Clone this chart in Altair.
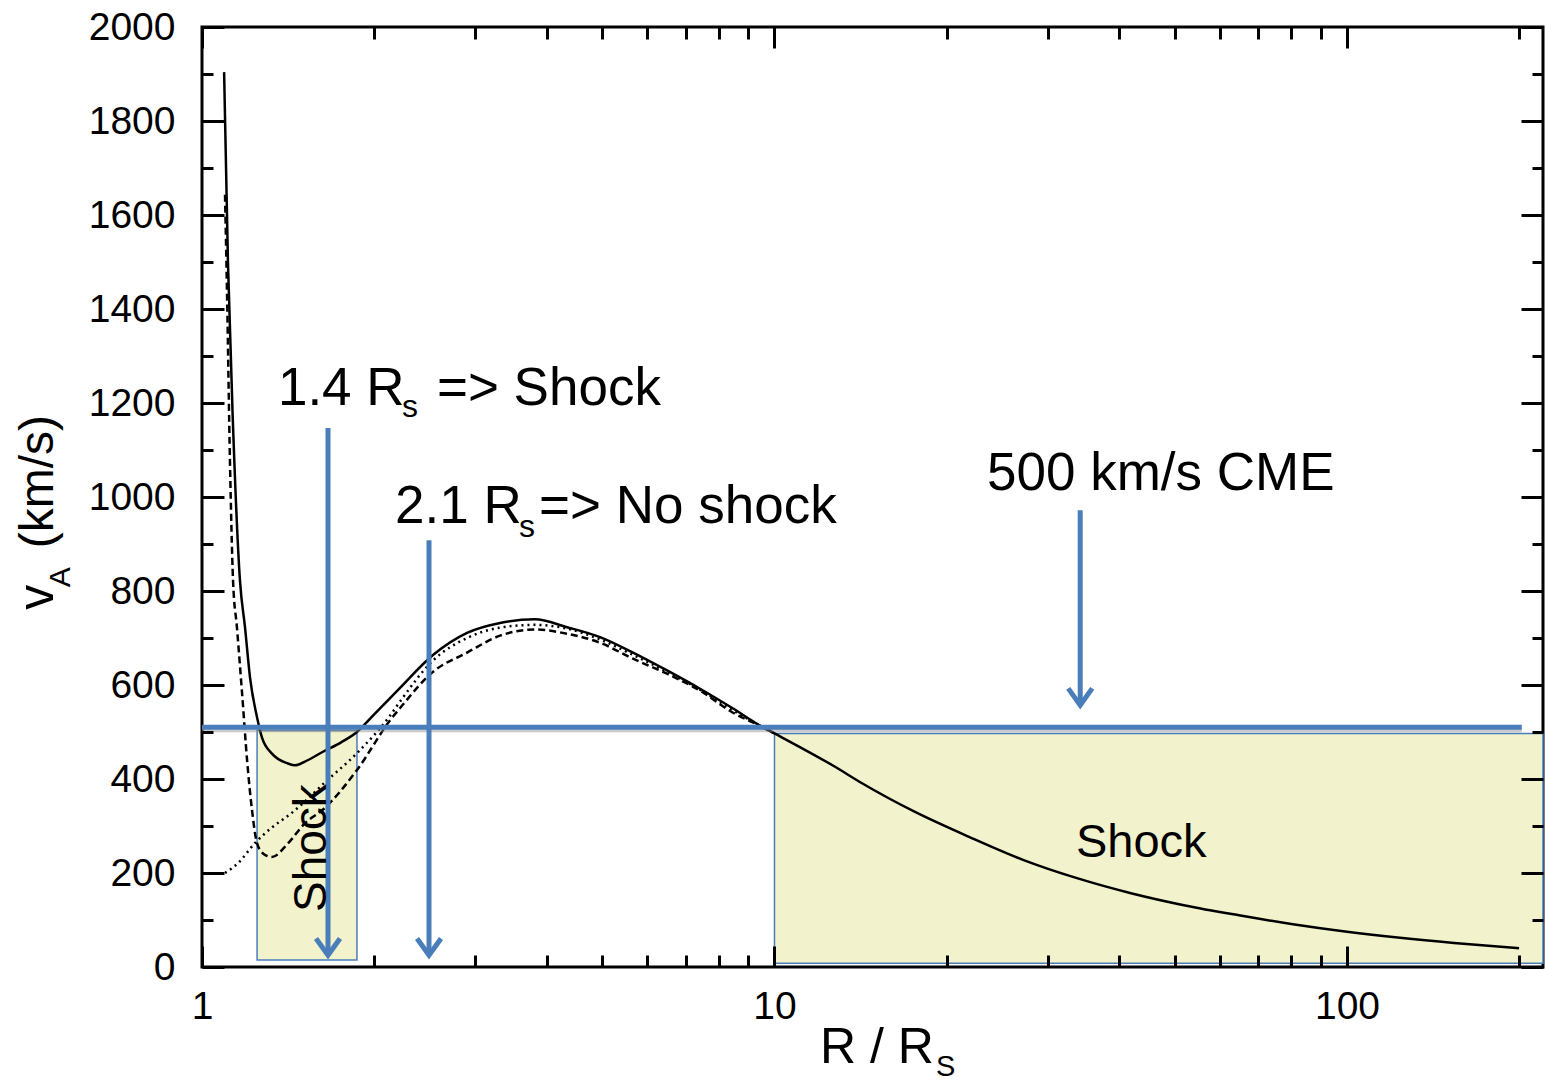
import altair as alt
import pandas as pd

# Alfvén speed profiles v_A(R) for three coronal density models
# R in solar radii, v_A in km/s
solid_r = [1.093, 1.110, 1.133, 1.165, 1.189, 1.213, 1.248, 1.273, 1.325, 1.413,
           1.454, 1.513, 1.627, 1.75, 1.865, 1.997, 2.131, 2.218, 2.532, 2.904,
           3.316, 3.815, 4.342, 4.957, 5.66, 6.491, 7.413, 8.464, 9.548, 10.0,
           12.76, 14.22, 17.60, 21.87, 27.17, 33.76, 41.95, 52.13, 64.76, 80.48,
           100.0, 123.8, 153.8, 199.8]
solid_v = [1904, 1500, 1150, 822, 722, 616, 531, 488, 454, 433,
           429, 437, 458, 478, 500, 537, 572, 594, 664, 711,
           732, 740, 723, 702, 669, 631, 592, 550, 510, 497,
           426, 391, 330, 277, 228, 189, 157, 131, 110, 91,
           75, 62, 51, 40]

dashed_r = [1.097, 1.106, 1.119, 1.133, 1.151, 1.175, 1.199, 1.223, 1.248, 1.283,
            1.325, 1.413, 1.513, 1.627, 1.865, 2.131, 2.218, 2.532, 2.904, 3.316,
            3.815, 4.342, 4.957, 5.66, 6.491, 7.413, 8.464, 9.548, 10.0]
dashed_v = [1643, 1431, 1076, 822, 722, 582, 439, 333, 263, 240,
            234, 263, 306, 335, 419, 525, 551, 628, 669, 705,
            718, 709, 690, 656, 624, 588, 541, 510, 497]

dotted_r = [1.097, 1.156, 1.238, 1.325, 1.425, 1.513, 1.627, 1.865, 2.131, 2.218,
            2.532, 2.904, 3.316, 3.815, 4.342, 4.957, 5.66, 6.491, 7.413, 8.464,
            9.548, 10.0]
dotted_v = [200, 221, 264, 297, 325, 352, 389, 455, 535, 565,
            652, 700, 722, 728, 720, 697, 664, 628, 590, 546,
            510, 497]

# CME speed level and the regions where the CME outruns v_A
cme_speed = 500
cme_line_r = [1.0, 202.0]
cme_line_v = [510]
shock_r0 = [1.248, 10.0]
shock_r1 = [1.865, 220.0]
shock_v0 = [15, 8]
shock_v1 = [503, 497]

# Arrows: radial position, start and end of shaft
arrow_r = [1.660, 2.492, 34.2]
arrow_top = [1147, 908, 972]
arrow_tip = [25, 25, 557]

# Axis ticks
x_major = [1, 10, 100]
x_minor = [2, 3, 4, 5, 6, 7, 8, 9, 20, 30, 40, 50, 60, 70, 80, 90, 200]
y_major = list(range(0, 2001, 200))
y_minor = list(range(100, 2000, 200))

# Text labels (pieces of subscripted strings are separate entries)
label_text = ["1.4 R", "s", "=> Shock",
              "2.1 R", "s", "=> No shock",
              f"{cme_speed} km/s CME",
              "Shock", "Shock",
              "R / R", "S",
              "v", "A", "(km/s)"]
label_r = [1.357, 2.235, 2.573,
           2.174, 3.579, 3.880,
           23.51,
           33.62, 1.647,
           12.01, 19.15,
           0.549, 0.588, 0.549]
label_v = [1196, 1170, 1196,
           945, 915, 945,
           1015,
           234, 117,
           -204, -232,
           760, 808, 891]
label_size = [53, 32, 53,
              53, 32, 53,
              53,
              47, 46,
              50, 29,
              50, 30, 48]
label_angle = [0, 0, 0,
               0, 0, 0,
               0,
               0, 270,
               0, 0,
               270, 270, 270]

FONT = "Liberation Sans"
BLUE = "#4a7ebb"
FILL = "#f2f2cc"

solid_df = pd.DataFrame({"R": solid_r, "v": solid_v})
dashed_df = pd.DataFrame({"R": dashed_r, "v": dashed_v})
dotted_df = pd.DataFrame({"R": dotted_r, "v": dotted_v})
box_df = pd.DataFrame({"r0": shock_r0, "r1": shock_r1, "v0": shock_v0, "v1": shock_v1})
line_df = pd.DataFrame({"r0": [cme_line_r[0]], "r1": [cme_line_r[1]], "v": cme_line_v})
arrow_df = pd.DataFrame({"R": arrow_r, "top": arrow_top, "tip": arrow_tip})
text_df = pd.DataFrame({"text": label_text, "R": label_r, "v": label_v,
                        "size": label_size, "angle": label_angle})

xs = alt.Scale(type="log", domain=[1, 220], nice=False)
ys = alt.Scale(domain=[0, 2000], nice=False)


def axis(orient, values, length, labels=False, pad=0):
    """Inward-pointing ticks: the axis is pulled into the plot by its tick length."""
    opts = dict(orient=orient, values=values, tickSize=length, offset=-length,
                domain=False, grid=False, ticks=True, tickColor="black",
                tickWidth=3, zindex=2, title=None, labels=labels)
    if labels:
        opts.update(format="d", labelFont=FONT, labelFontSize=39,
                    labelColor="black", labelPadding=pad, labelFlush=False,
                    labelOverlap=False)
    return alt.Axis(**opts)


boxes = alt.Chart(box_df).mark_rect(fill=FILL, stroke=BLUE, strokeWidth=1.5).encode(
    x=alt.X("r0:Q", scale=xs, axis=axis("bottom", x_major, 21, True, 20)),
    x2="r1:Q",
    y=alt.Y("v0:Q", scale=ys, axis=axis("left", y_major, 22, True, 27)),
    y2="v1:Q",
)

solid = alt.Chart(solid_df).mark_line(
    color="black", strokeWidth=2.5, interpolate="monotone"
).encode(
    x=alt.X("R:Q", scale=xs, axis=axis("bottom", x_minor, 12)),
    y=alt.Y("v:Q", scale=ys, axis=axis("left", y_minor, 11)),
)

dashed = alt.Chart(dashed_df).mark_line(
    color="black", strokeWidth=2.5, strokeDash=[7, 4], interpolate="monotone"
).encode(
    x=alt.X("R:Q", scale=xs, axis=axis("top", x_major, 21)),
    y=alt.Y("v:Q", scale=ys, axis=axis("right", y_major, 22)),
)

dotted = alt.Chart(dotted_df).mark_line(
    color="black", strokeWidth=2.5, strokeDash=[2, 4], interpolate="monotone"
).encode(
    x=alt.X("R:Q", scale=xs, axis=axis("top", x_minor, 12)),
    y=alt.Y("v:Q", scale=ys, axis=axis("right", y_minor, 11)),
)

# soft drop shadow under the CME speed line
cme_shadow = alt.Chart(line_df).mark_rule(
    color="#8c8c8c", strokeWidth=4, opacity=0.45, yOffset=3
).encode(
    x=alt.X("r0:Q", scale=xs, axis=None),
    x2="r1:Q",
    y=alt.Y("v:Q", scale=ys, axis=None),
)

cme_line = alt.Chart(line_df).mark_rule(color=BLUE, strokeWidth=5).encode(
    x=alt.X("r0:Q", scale=xs, axis=None),
    x2="r1:Q",
    y=alt.Y("v:Q", scale=ys, axis=None),
)

shafts = alt.Chart(arrow_df).mark_rule(color=BLUE, strokeWidth=5).encode(
    x=alt.X("R:Q", scale=xs, axis=None),
    y=alt.Y("top:Q", scale=ys, axis=None),
    y2="tip:Q",
)

heads = alt.Chart(arrow_df).mark_point(
    shape="M-1,-1.4L0,0L1,-1.4", filled=False, stroke=BLUE, strokeWidth=5,
    size=576, opacity=1, strokeJoin="miter",
).encode(
    x=alt.X("R:Q", scale=xs, axis=None),
    y=alt.Y("tip:Q", scale=ys, axis=None),
)

texts = alt.Chart(text_df).mark_text(
    align="left", baseline="alphabetic", font=FONT, color="black"
).encode(
    x=alt.X("R:Q", scale=xs, axis=None),
    y=alt.Y("v:Q", scale=ys, axis=None),
    text="text:N",
    size=alt.Size("size:Q", scale=None),
    angle=alt.Angle("angle:Q", scale=None),
)

chart = (
    alt.layer(boxes, solid, dashed, dotted, cme_shadow, cme_line, shafts, heads, texts)
    .resolve_axis(x="independent", y="independent")
    .properties(
        width=1341,
        height=940,
        padding={"left": 202, "top": 27, "right": 2, "bottom": 115},
        autosize=alt.AutoSizeParams(type="none"),
        background="white",
    )
    .configure_view(stroke="black", strokeWidth=3)
)

chart.save("out.html", embed_options={"renderer": "svg", "actions": False})
